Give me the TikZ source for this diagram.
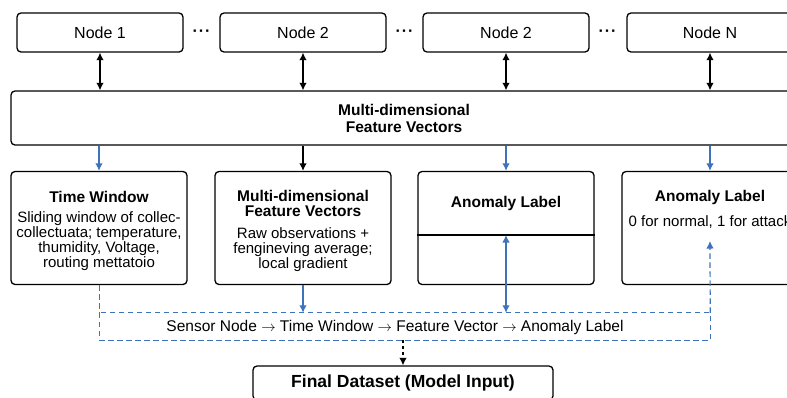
\documentclass[tikz,border=0pt]{standalone}
\usepackage{fontspec}
\setmainfont{Liberation Sans}
\usetikzlibrary{arrows.meta}

\definecolor{flowblue}{RGB}{62,115,186}

\tikzset{
  box/.style={draw, rounded corners=4pt, line width=1.3pt, fill=white, inner sep=0pt},
  nodebox/.style={box, minimum width=166pt, minimum height=39pt, font=\fontsize{16}{19}\selectfont},
  card/.style={box, minimum width=176pt, minimum height=113pt},
  cardtext/.style={align=center, inner sep=0pt, font=\fontsize{15}{15}\selectfont},
  heading/.style={font=\fontsize{15.5}{17}\selectfont\bfseries},
  link/.style={line width=1.3pt, -{Latex[length=7.5pt,width=7.5pt]}},
  bilink/.style={line width=1.3pt, {Latex[length=7.5pt,width=7.5pt]}-{Latex[length=7.5pt,width=7.5pt]}},
  flowline/.style={flowblue, line width=1.2pt, dash pattern=on 5.5pt off 3.5pt},
}

\begin{document}
\begin{tikzpicture}[x=1pt, y=-1pt]

  \useasboundingbox (0,0) rectangle (787,397);
  \fill[white] (0,0) rectangle (787,397);
  \clip (0,0) rectangle (787,397);

  \node[nodebox] (n1) at (100,32.5) {Node 1};
  \node[nodebox] (n2) at (303,32.5) {Node 2};
  \node[nodebox] (n3) at (506,32.5) {Node 2};
  \node[nodebox] (nN) at (710,32.5) {Node N};

  \node[font=\fontsize{16}{19}\selectfont\bfseries] (dots1) at (201.5,33) {·\kern1pt·\kern1pt·};
  \node[font=\fontsize{16}{19}\selectfont\bfseries] (dots2) at (404.5,33) {·\kern1pt·\kern1pt·};
  \node[font=\fontsize{16}{19}\selectfont\bfseries] (dots3) at (607.5,33) {·\kern1pt·\kern1pt·};

  \node[box, minimum width=786pt, minimum height=54pt, align=center, heading] (feat) at (404,118)
    {Multi-dimensional\\Feature Vectors};

  \draw[bilink] (n1) -- (n1 |- feat.north);
  \draw[bilink] (n2) -- (n2 |- feat.north);
  \draw[bilink] (n3) -- (n3 |- feat.north);
  \draw[bilink] (nN) -- (nN |- feat.north);

  \node[card] (tw) at (99,228) {};
  \node[card] (mf) at (303,228) {};
  \node[card] (al) at (506,228) {};
  \node[card] (ar) at (710,228) {};

  \node[cardtext] (twT) at (99,231)
    {{\fontsize{15.5}{17}\selectfont\bfseries Time Window}\\[5pt]
     Sliding window of collec-\\collectuata; temperature,\\thumidity, Voltage,\\routing mettatoio};
  \node[cardtext] (mfT) at (303,231)
    {{\fontsize{15.5}{15}\selectfont\bfseries Multi-dimensional}\\{\fontsize{15.5}{17}\selectfont\bfseries Feature Vectors}\\[7pt]
     Raw observations +\\fengineving average;\\local gradient};

  \node[heading] (alT) at (506,203) {Anomaly Label};
  \coordinate (alDiv) at (506,235);
  \draw[line width=1.3pt] (al.west |- alDiv) -- (al.east |- alDiv);

  \node[heading] (arT) at (710,197) {Anomaly Label};
  \node[font=\fontsize{15}{17}\selectfont] (arB) at (710,222) {0 for normal, 1 for attack};
  \coordinate (arIn) at (710,241);

  \draw[link, flowblue] (tw.north |- feat.south) -- (tw);
  \draw[link] (mf.north |- feat.south) -- (mf);
  \draw[link, flowblue] (al.north |- feat.south) -- (al);
  \draw[link, flowblue] (ar.north |- feat.south) -- (ar);

  \node[minimum width=610pt, minimum height=27pt, inner sep=0pt] (flow) at (405,326.5) {};
  \draw[flowline] (flow.north west) rectangle (flow.south east);
  \node[font=\fontsize{15.5}{17}\selectfont] (flowtext) at (395,327)
    {Sensor Node $\rightarrow$ Time Window $\rightarrow$ Feature Vector $\rightarrow$ Anomaly Label};

  \draw[flowline] (tw.south -| flow.west) -- (flow.north west);
  \draw[flowline, -{Latex[length=7.5pt,width=7.5pt]}] (flow.north east) -- (arIn);
  \draw[link, flowblue] (mf) -- (mf |- flow.north);
  \draw[bilink, flowblue] (al.center |- flow.north) -- (alDiv);

  \node[box, minimum width=300pt, minimum height=34pt, font=\fontsize{17.5}{20}\selectfont\bfseries] (fin) at (403,383)
    {Final Dataset (Model Input)};
  \draw[link, dashed, line width=1.2pt] (flow.south -| fin) -- (fin);

\end{tikzpicture}
\end{document}
